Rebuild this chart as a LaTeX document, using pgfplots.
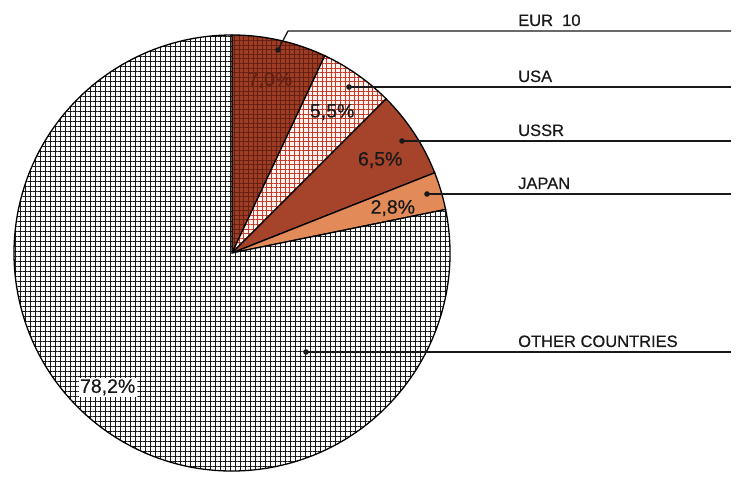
\documentclass[border=0pt]{standalone}
\usepackage{pgfplots}
\pgfplotsset{compat=1.18}
\usepackage{pgfplotstable}
\usepackage{fontspec}
\setmainfont{Liberation Sans}
\newfontfamily\labfont[FakeBold=0.5]{Liberation Sans}
\usetikzlibrary{patterns.meta}

\definecolor{eurbrown}{RGB}{158,60,36}
\definecolor{eurgrid}{RGB}{100,32,18}
\definecolor{usabg}{RGB}{255,242,238}
\definecolor{usagrid}{RGB}{196,58,38}
\definecolor{ussrbrown}{RGB}{165,68,42}
\definecolor{japanorange}{RGB}{226,138,88}

% shares in percent, clockwise from 12 o'clock
% liney/doty/kinkx: leader line (px from top), labr/laba: position of the % label
\pgfplotstableread{
share liney dotx doty kinkx labr laba
7.0   31    278  50   288   177  77.6
5.5   87    349  87   349   173  54.6
6.5   141   402  141  402   175  32.1
2.8   194   427  194  427   167  15.6
78.2  352   306  352  306   183  -132.8
}\piedata
\def\names{{"EUR\ \ 10","USA","USSR","JAPAN","OTHER COUNTRIES"}}

\tikzset{
  outline/.style={draw=black,line width=1.3pt},
  slice0/.style={fill=eurbrown,postaction={pattern={Hatch[angle=0,distance=4.6pt,line width=0.9pt]},pattern color=eurgrid},postaction={outline}},
  slice1/.style={fill=usabg,postaction={pattern={Hatch[angle=0,distance=4.6pt,line width=0.8pt]},pattern color=usagrid},postaction={outline}},
  slice2/.style={fill=ussrbrown,postaction={outline}},
  slice3/.style={fill=japanorange,postaction={outline}},
  slice4/.style={fill=white,postaction={pattern={Hatch[angle=0,distance=5pt,line width=0.85pt]},pattern color=black!90},postaction={outline}},
  lab0/.style={text=eurgrid},
  lab1/.style={text=black!90},
  lab2/.style={text=black!90},
  lab3/.style={text=black!90},
  lab4/.style={text=black!90,fill=white,inner sep=1.5pt},
}

\begin{document}
\begin{tikzpicture}
\begin{axis}[width=744pt,height=475pt,scale only axis,
  xmin=0,xmax=744,ymin=0,ymax=475,hide axis,clip=false]
\pgfplotsextra{
  \path (axis cs:0,0) rectangle (axis cs:744,475);
  \pgfplotstablegetrowsof{\piedata}
  \pgfmathtruncatemacro\nlast{\pgfplotsretval-1}
  \xdef\astart{90}
  \foreach \i in {0,...,\nlast}{
    \pgfplotstablegetelem{\i}{share}\of\piedata \let\v\pgfplotsretval
    \pgfmathsetmacro\aend{\astart-3.6*\v}
    \path[slice\i] (axis cs:232,222) -- ++(\astart:218pt)
      arc[start angle=\astart,end angle=\aend,radius=218pt] -- cycle;
    \xdef\astart{\aend}
  }
  \foreach \i in {0,...,\nlast}{
    \pgfplotstablegetelem{\i}{share}\of\piedata \let\v\pgfplotsretval
    \pgfplotstablegetelem{\i}{liney}\of\piedata \pgfmathsetmacro\Y{475-\pgfplotsretval}
    \pgfplotstablegetelem{\i}{dotx}\of\piedata \let\dx\pgfplotsretval
    \pgfplotstablegetelem{\i}{doty}\of\piedata \pgfmathsetmacro\dy{475-\pgfplotsretval}
    \pgfplotstablegetelem{\i}{kinkx}\of\piedata \let\kx\pgfplotsretval
    \pgfplotstablegetelem{\i}{labr}\of\piedata \let\lr\pgfplotsretval
    \pgfplotstablegetelem{\i}{laba}\of\piedata \let\la\pgfplotsretval
    \pgfmathsetmacro\ty{\Y+5}
    \draw[line width=1.3pt,black!90] (axis cs:\dx,\dy) -- (axis cs:\kx,\Y) -- (axis cs:731,\Y);
    \fill[black!90] (axis cs:\dx,\dy) circle[radius=2.8pt];
    \pgfmathparse{\names[\i]}\let\nm\pgfmathresult
    \node[anchor=base west,font=\labfont\fontsize{16.5}{19}\selectfont,text=black!90,inner sep=0pt]
      at (axis cs:518,\ty) {\nm};
    \path (axis cs:232,222) ++(\la:\lr pt) node[lab\i,font=\labfont\fontsize{19.5}{22}\selectfont]
      {\pgfmathprintnumber[fixed,fixed zerofill,precision=1,use comma,assume math mode=true]{\v}\%};
  }
}
\end{axis}
\end{tikzpicture}
\end{document}
